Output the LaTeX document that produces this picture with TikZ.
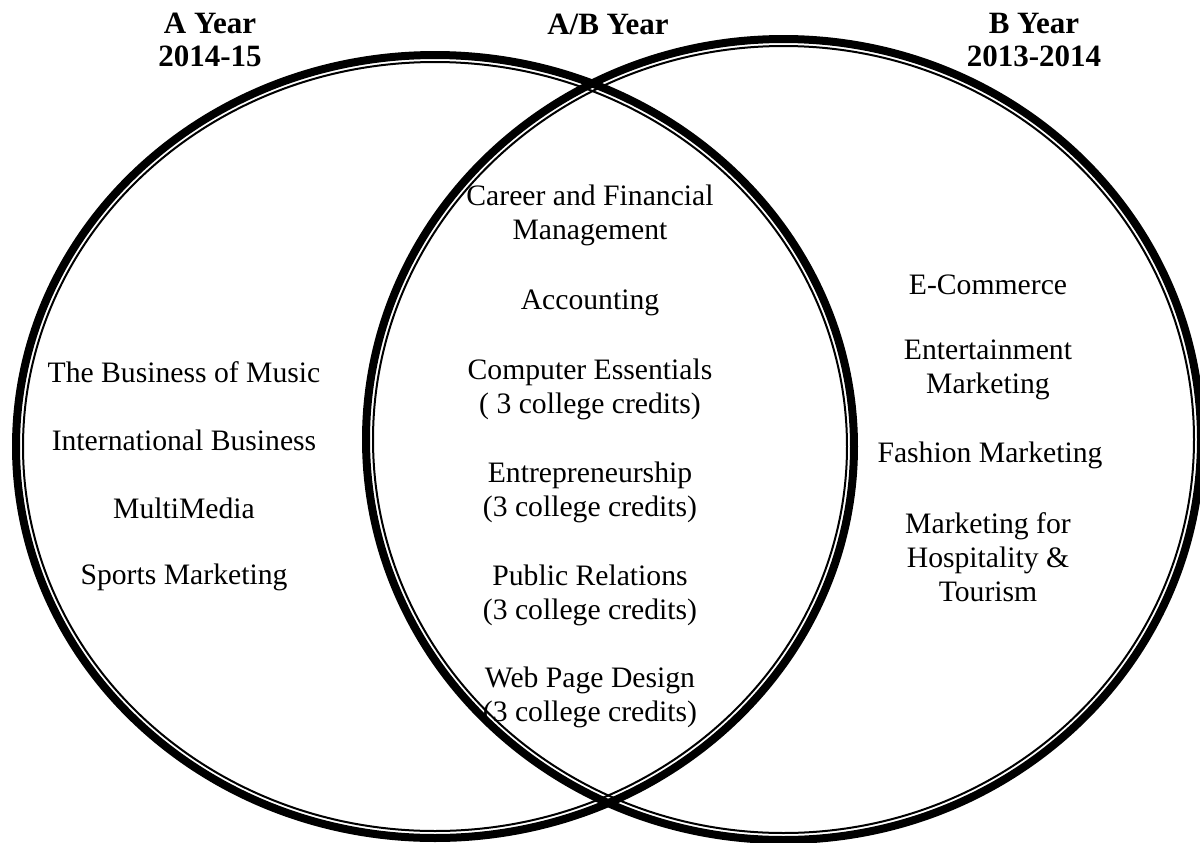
\documentclass[tikz,border=0pt]{standalone}
\usepackage{fontspec}
\setmainfont{Liberation Serif}
\begin{document}
\begin{tikzpicture}[x=0.6pt,y=-0.6pt,
  thickring/.style={line width=4.8pt},
  thinring/.style={line width=1.2pt},
  course/.style={align=center,inner sep=0pt,font=\fontsize{17.8}{20.4}\selectfont},
  heading/.style={align=center,inner sep=0pt,font=\fontsize{18.6}{19.6}\selectfont\bfseries}]
\useasboundingbox (0,0) rectangle (1200,842);
\clip (0,0) rectangle (1200,842);

% left set: thick outer ring with a thin ring just inside
\draw[thickring] (435,446.5) ellipse [x radius=251.4pt, y radius=234.9pt];
\draw[thinring]  (435,446.5) ellipse [x radius=247.2pt, y radius=230.7pt];
% right set
\draw[thickring] (783.5,439.5) ellipse [x radius=250.5pt, y radius=240.3pt];
\draw[thinring]  (783.5,439.5) ellipse [x radius=246.3pt, y radius=236.1pt];

% headings
\node[heading] (ha)  at (210,40) {A Year\\2014-15};
\node[heading] (hab) at (608,24) {A/B Year};
\node[heading] (hb)  at (1034,40) {B Year\\2013-2014};

% A year only
\node[course] (a1) at (184,372) {The Business of Music};
\node[course] (a2) at (184,440) {International Business};
\node[course] (a3) at (184,508) {MultiMedia};
\node[course] (a4) at (184,577) {Sports Marketing};

% both years
\node[course] (c1) at (590,215) {Career and Financial\\Management};
\node[course] (c2) at (590,303) {Accounting};
\node[course] (c3) at (590,389) {Computer Essentials\\( 3 college credits)};
\node[course] (c4) at (590,492) {Entrepreneurship\\(3 college credits)};
\node[course] (c5) at (590,595) {Public Relations\\(3 college credits)};
\node[course] (c6) at (590,697) {Web Page Design\\(3 college credits)};

% B year only
\node[course] (b1) at (988,285) {E-Commerce};
\node[course] (b2) at (988,370) {Entertainment\\Marketing};
\node[course] (b3) at (990,455) {Fashion Marketing};
\node[course] (b4) at (988,557) {Marketing for\\Hospitality \&\\Tourism};
\end{tikzpicture}
\end{document}
